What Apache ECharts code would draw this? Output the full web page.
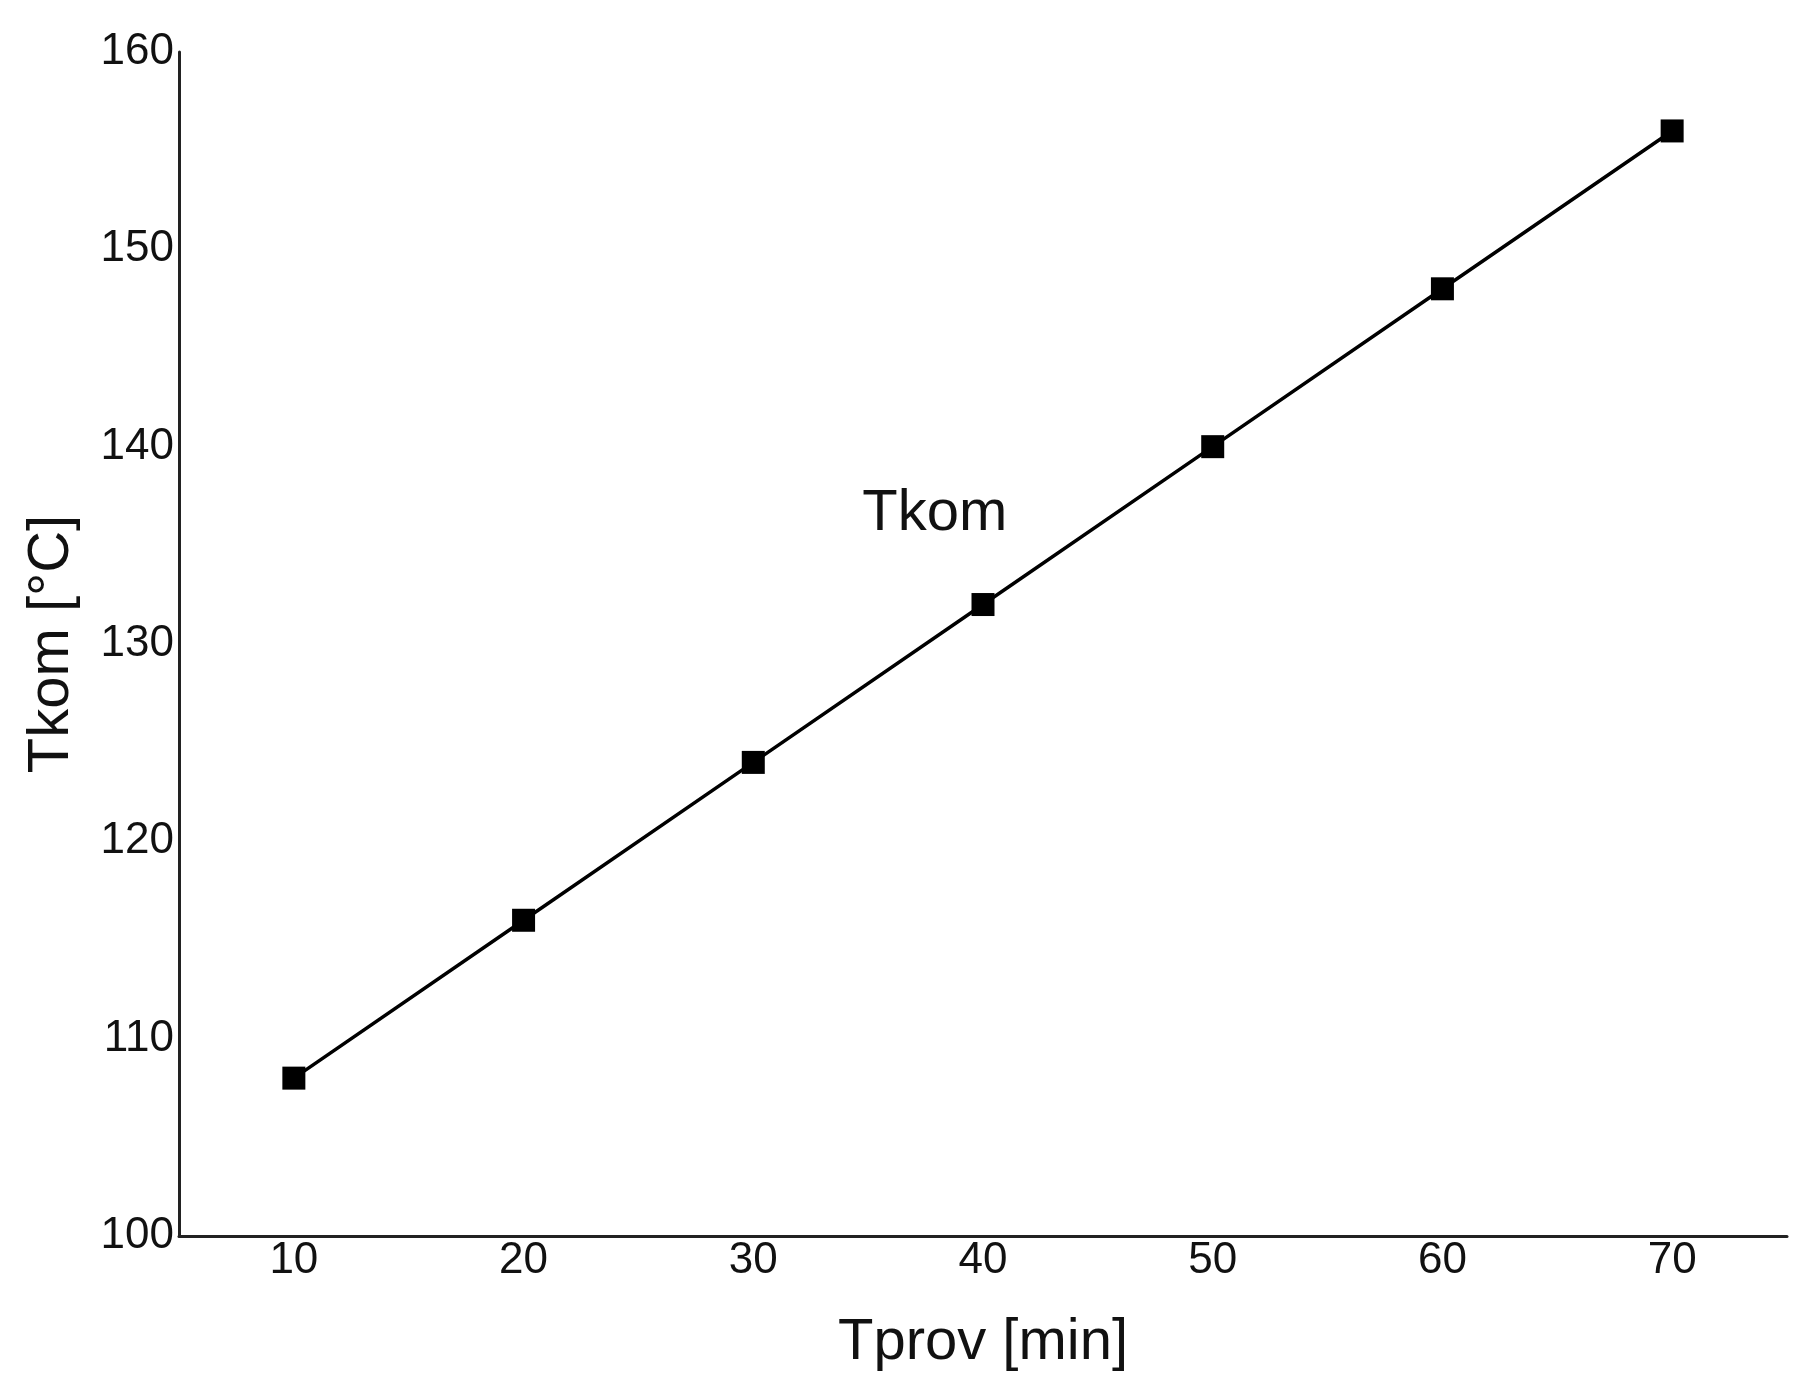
<!DOCTYPE html>
<html>
<head>
<meta charset="utf-8">
<script src="https://cdn.jsdelivr.net/npm/echarts@6/dist/echarts.min.js"></script>
<style>
html, body { margin: 0; padding: 0; background: #fff; }
#main { width: 1816px; height: 1395px; }
</style>
</head>
<body>
<div id="main"></div>
<script>
// x: Tprov [min], y: Tkom [°C]
var tprov = [10, 20, 30, 40, 50, 60, 70];
var tkom = [108, 116, 124, 132, 140, 148, 156];
var xTicks = [10, 20, 30, 40, 50, 60, 70];
var seriesName = 'Tkom';

var font = 'Arial, "Liberation Sans", sans-serif';

var chart = echarts.init(document.getElementById('main'));

var option = {
    animation: false,
    backgroundColor: '#fff',
    grid: {
        left: 179,
        top: 52,
        right: 29,
        bottom: 159,
        containLabel: false,
        outerBoundsMode: 'none'
    },
    xAxis: {
        type: 'value',
        min: 5,
        max: 75,
        name: 'Tprov [min]',
        nameLocation: 'middle',
        nameGap: 78,
        nameTextStyle: { fontSize: 58, color: '#111', fontFamily: font },
        axisLine: { show: true, onZero: false, lineStyle: { color: '#222', width: 3 } },
        axisTick: { show: false },
        splitLine: { show: false },
        axisLabel: {
            customValues: xTicks,
            fontSize: 44,
            color: '#111',
            fontFamily: font,
            margin: 3
        }
    },
    yAxis: {
        type: 'value',
        min: 100,
        max: 160,
        interval: 10,
        name: 'Tkom [°C]',
        nameLocation: 'middle',
        nameGap: 98,
        nameTextStyle: { fontSize: 58, color: '#111', fontFamily: font },
        axisLine: { show: true, lineStyle: { color: '#222', width: 3 } },
        axisTick: { show: false },
        splitLine: { show: false },
        axisLabel: {
            fontSize: 44,
            color: '#111',
            fontFamily: font,
            margin: 5
        }
    },
    series: [
        {
            name: seriesName,
            type: 'line',
            data: tprov.map(function (x, i) { return [x, tkom[i]]; }),
            symbol: 'rect',
            symbolSize: 23,
            showAllSymbol: true,
            itemStyle: { color: '#000' },
            lineStyle: { color: '#000', width: 3.5 }
        }
    ]
};

chart.setOption(option);

// series label placed above the line, between 30 and 40 min
var pos = chart.convertToPixel({ gridIndex: 0 }, [37.9, 136.6]);
chart.setOption({
    graphic: [{
        type: 'text',
        x: pos[0],
        y: pos[1],
        style: {
            text: seriesName,
            fontSize: 58,
            fontFamily: font,
            fill: '#111',
            align: 'center',
            verticalAlign: 'middle'
        }
    }]
});
</script>
</body>
</html>
